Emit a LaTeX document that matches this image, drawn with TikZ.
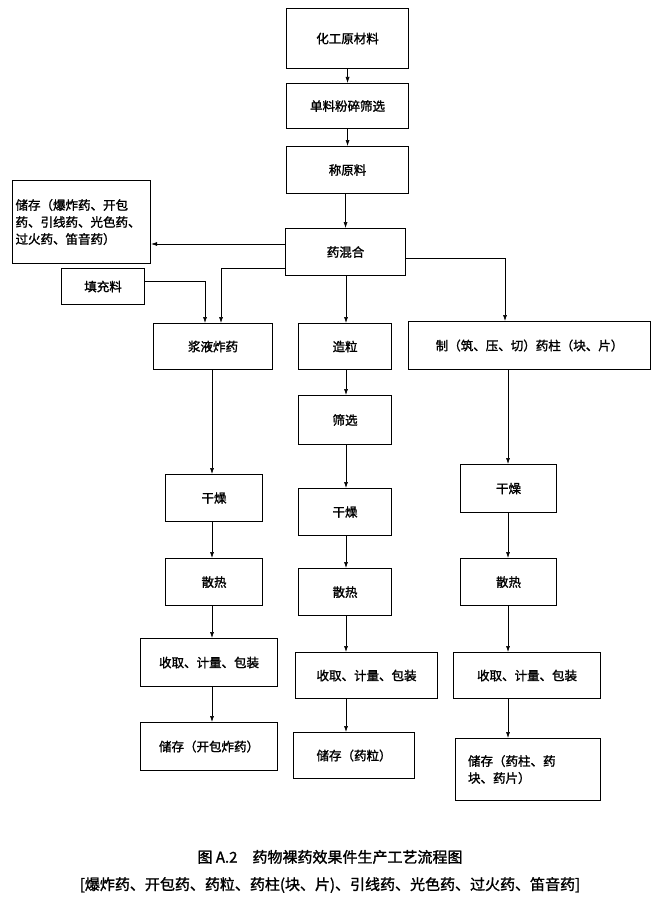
\documentclass[tikz,border=0pt]{standalone}
\usepackage{fontspec}
\setmainfont{Noto Sans CJK SC}[AutoFakeBold=1.5]
\usetikzlibrary{arrows.meta}
\begin{document}
\begin{tikzpicture}[x=1pt,y=-1pt,
 box/.style={draw,line width=1.1pt,inner sep=0pt,font=\bfseries\fontsize{12.5}{17}\selectfont},
 ar/.style={-{Latex[length=6pt,width=4pt]},line width=0.6pt}]
\useasboundingbox (0,0) rectangle (660,923);
\newcommand\bx[6]{\node[box,minimum width=#4-#2,minimum height=#5-#3,anchor=north west] (#1) at (#2,#3) {#6};}
\bx{a}{286}{8}{408}{68}{化工原材料}
\bx{b}{286}{83}{408}{128}{单料粉碎筛选}
\bx{c}{286}{146}{408}{193}{称原料}
\bx{d}{285}{228}{405}{275}{药混合}
\node[box,minimum width=138,minimum height=83,anchor=north west,align=left,text width=132,inner sep=3pt] (s) at (12,180) {储存（爆炸药、开包\\药、引线药、光色药、\\过火药、笛音药）};
\bx{f}{61}{268}{144}{304}{填充料}
\bx{l1}{153}{323}{272}{369}{浆液炸药}
\bx{m1}{298}{323}{391}{369}{造粒}
\bx{r1}{408}{321}{650}{369}{制（筑、压、切）药柱（块、片）}
\bx{m2}{298}{395}{391}{444}{筛选}
\bx{l2}{165}{474}{262}{521}{干燥}
\bx{m3}{298}{488}{391}{535}{干燥}
\bx{r2}{460}{464}{556}{512}{干燥}
\bx{l3}{165}{558}{262}{605}{散热}
\bx{m4}{298}{568}{391}{615}{散热}
\bx{r3}{460}{558}{556}{605}{散热}
\bx{l4}{140}{638}{277}{686}{收取、计量、包装}
\bx{m5}{295}{652}{437}{698}{收取、计量、包装}
\bx{r4}{453}{652}{600}{698}{收取、计量、包装}
\bx{l5}{140}{722}{277}{770}{储存（开包炸药）}
\bx{m6}{293}{732}{414}{778}{储存（药粒）}
\node[box,minimum width=145,minimum height=62,anchor=north west,align=left,text width=120] (r5) at (455,738) {储存（药柱、药\\块、药片）};
\draw[ar] (a) -- (b); \draw[ar] (b) -- (c); \draw[ar] (c.south -| d) -- (d);
\draw[ar] (d.west |- 0,244) -- (s.east |- 0,244);
\draw[ar] (d.west |- 0,268) -- (221,268) -- (221,323);
\draw[ar] (f.east |- 0,281) -- (205,281) -- (205,323);
\draw[ar] (346,275) -- (346,323);
\draw[ar] (d.east |- 0,258) -- (505,258) -- (505,321);
\draw[ar] (212,369) -- (212,474); \draw[ar] (212,521) -- (212,558); \draw[ar] (212,605) -- (212,638); \draw[ar] (212,686) -- (212,722);
\draw[ar] (346,369) -- (346,395); \draw[ar] (346,444) -- (346,488); \draw[ar] (346,535) -- (346,568); \draw[ar] (346,615) -- (346,652); \draw[ar] (346,698) -- (346,732);
\draw[ar] (508,369) -- (508,464); \draw[ar] (508,512) -- (508,558); \draw[ar] (508,605) -- (508,652); \draw[ar] (508,698) -- (508,738);
\node[font=\bfseries\fontsize{15}{18}\selectfont] (t1) at (330,857) {图 A.2\quad 药物裸药效果件生产工艺流程图};
\node[font=\bfseries\fontsize{15}{18}\selectfont] (t2) at (330,885) {[爆炸药、开包药、药粒、药柱(块、片)、引线药、光色药、过火药、笛音药]};
\end{tikzpicture}
\end{document}
